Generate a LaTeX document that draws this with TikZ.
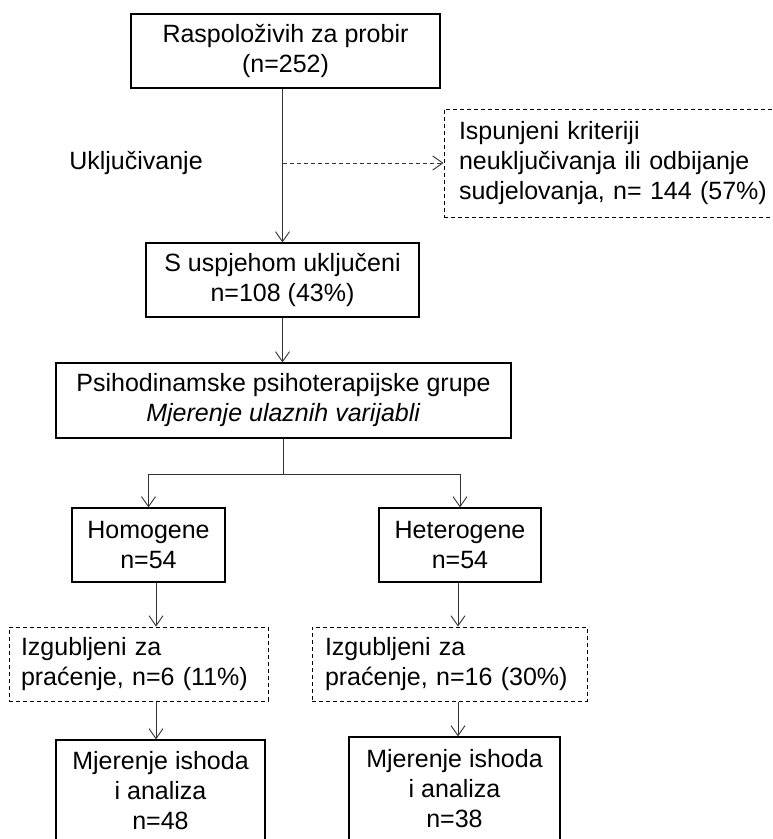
\documentclass[tikz,border=0pt]{standalone}
\usepackage{fontspec}
\setmainfont{Liberation Sans}
\usetikzlibrary{arrows.meta}

\begin{document}
\begin{tikzpicture}[x=1pt,y=-1pt,
  box/.style={draw=black,line width=1.2pt,align=center,inner sep=0pt,font=\fontsize{25}{30}\selectfont},
  lostbox/.style={box,line width=1pt,dash pattern=on 4pt off 3pt,align=left,inner ysep=0pt},
  arr/.style={-{Straight Barb[length=10pt,width=14pt]},line width=0.9pt,draw=black!80}]
 \useasboundingbox (0,0) rectangle (772,839);
 \clip (0,0) rectangle (772,839);
 \node[box,minimum width=309pt,minimum height=74pt] (probir) at (285.5,51) {Raspoloživih za probir\\(n=252)};
 \node[font=\fontsize{25}{30}\selectfont,inner sep=0pt] (ukljuc) at (136,163) {Uključivanje};
 \node[lostbox,text width=346pt,inner xsep=15pt,minimum height=108pt] (iskljuceni) at (632,163) {Ispunjeni kriteriji\\neuključivanja ili odbijanje\\sudjelovanja, n= 144 (57\%)};
 \node[box,minimum width=273pt,minimum height=74pt] (uspjeh) at (282.5,280) {S uspjehom uključeni\\n=108 (43\%)};
 \node[box,minimum width=455pt,minimum height=75pt] (grupe) at (283.5,400.5) {Psihodinamske psihoterapijske grupe\\\textit{Mjerenje ulaznih varijabli}};
 \node[box,minimum width=153pt,minimum height=74pt] (homo) at (148.5,545) {Homogene\\n=54};
 \node[box,minimum width=162pt,minimum height=74pt] (hetero) at (460,545) {Heterogene\\n=54};
 \node[lostbox,text width=235pt,inner xsep=12pt,minimum height=74pt] (izgub1) at (138.5,664) {Izgubljeni za\\praćenje, n=6 (11\%)};
 \node[lostbox,text width=249pt,inner xsep=13pt,minimum height=74pt] (izgub2) at (449.5,664) {Izgubljeni za\\praćenje, n=16 (30\%)};
 \node[box,minimum width=209pt,minimum height=102pt] (ishod1) at (160.5,791) {Mjerenje ishoda\\i analiza\\n=48};
 \node[box,minimum width=211pt,minimum height=104pt] (ishod2) at (454.5,789) {Mjerenje ishoda\\i analiza\\n=38};
 \coordinate (odvoj) at (283,163);
 \coordinate (racva) at (283.5,474);
 \coordinate (lijevo) at (156,0);
 \coordinate (desno) at (458,0);
 \draw[arr] (uspjeh.north |- probir.south) -- (uspjeh.north);
 \draw[arr,dash pattern=on 4pt off 3pt] (odvoj) -- (iskljuceni.west);
 \draw[arr] (uspjeh.south) -- (uspjeh.south |- grupe.north);
 \draw[line width=0.9pt,draw=black!80] (grupe.south) -- (racva);
 \draw[arr] (racva) -| (homo.north);
 \draw[arr] (racva) -| (hetero.north);
 \draw[arr] (homo.south -| lijevo) -- (izgub1.north -| lijevo);
 \draw[arr] (izgub1.south -| lijevo) -- (ishod1.north -| lijevo);
 \draw[arr] (hetero.south -| desno) -- (izgub2.north -| desno);
 \draw[arr] (izgub2.south -| desno) -- (ishod2.north -| desno);
\end{tikzpicture}
\end{document}
